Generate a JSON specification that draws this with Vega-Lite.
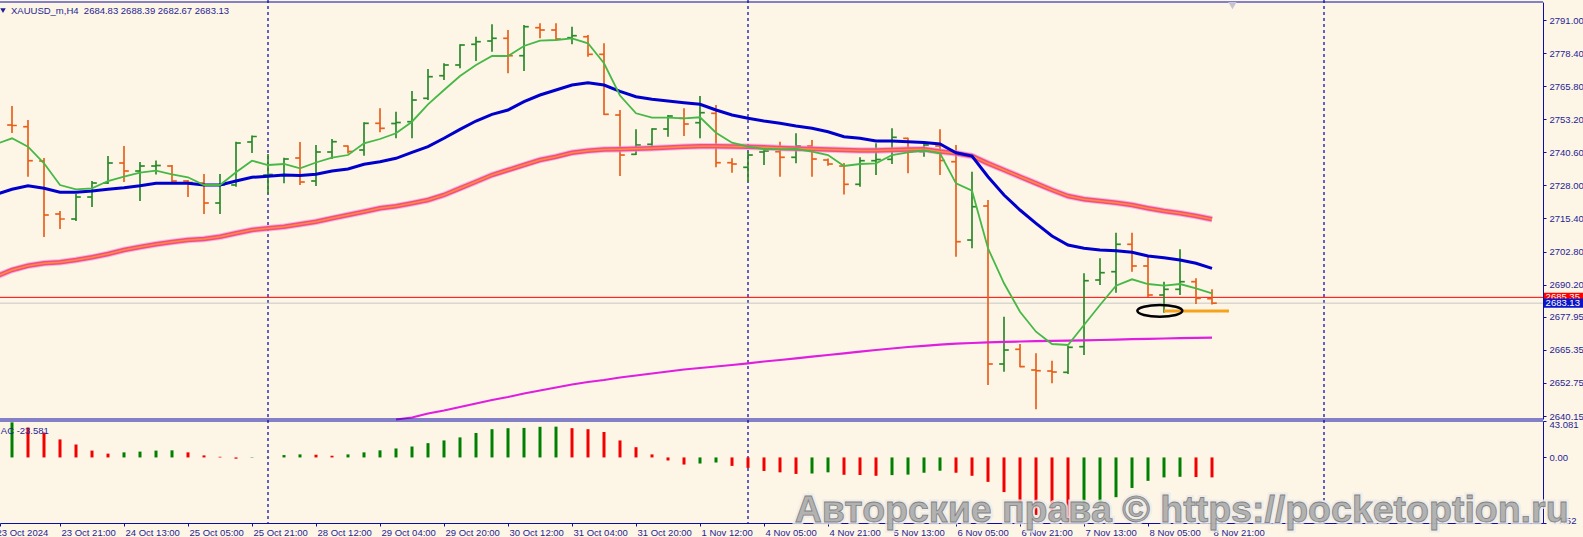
{
"$schema": "https://vega.github.io/schema/vega-lite/v6.json",
"width": 1543, "height": 523,
"autosize": {"type": "none"},
"padding": {"left": 0, "top": 0, "right": 40, "bottom": 14},
"background": "#fdf5e6",
"config": {"view": {"stroke": null}, "font": "Liberation Sans",
  "axis": {"grid": false, "title": null, "tickColor": "#0c0ca8", "domainColor": "#0c0ca8", "labelColor": "#1e1e96", "labelFont": "Liberation Sans", "labelFontSize": 9.5, "tickSize": 3}},
"datasets": {
"bars": [
{"i":0,"o":2751.00,"h":2758.24,"l":2747.95,"c":2750.81},
{"i":1,"o":2750.35,"h":2752.91,"l":2731.31,"c":2737.40},
{"i":2,"o":2737.29,"h":2738.43,"l":2708.34,"c":2716.72},
{"i":3,"o":2717.10,"h":2718.24,"l":2711.38,"c":2715.19},
{"i":4,"o":2715.19,"h":2724.72,"l":2714.43,"c":2723.57},
{"i":5,"o":2723.57,"h":2729.67,"l":2719.76,"c":2728.91},
{"i":6,"o":2728.91,"h":2739.19,"l":2728.53,"c":2736.53},
{"i":7,"o":2736.53,"h":2743.00,"l":2729.29,"c":2733.48},
{"i":8,"o":2733.48,"h":2736.91,"l":2722.05,"c":2735.38},
{"i":9,"o":2735.38,"h":2737.48,"l":2732.14,"c":2735.57},
{"i":10,"o":2735.38,"h":2735.76,"l":2729.29,"c":2729.67},
{"i":11,"o":2729.67,"h":2730.05,"l":2723.57,"c":2729.10},
{"i":12,"o":2728.91,"h":2732.34,"l":2717.10,"c":2721.29},
{"i":13,"o":2721.29,"h":2732.34,"l":2717.10,"c":2728.15},
{"i":14,"o":2728.15,"h":2744.64,"l":2727.50,"c":2744.14},
{"i":15,"o":2744.53,"h":2747.00,"l":2740.33,"c":2746.62},
{"i":16,"o":2731.95,"h":2739.95,"l":2724.72,"c":2732.14},
{"i":17,"o":2731.95,"h":2738.54,"l":2728.79,"c":2738.05},
{"i":18,"o":2738.43,"h":2744.53,"l":2728.15,"c":2729.29},
{"i":19,"o":2729.67,"h":2743.38,"l":2727.76,"c":2740.72},
{"i":20,"o":2740.72,"h":2745.67,"l":2738.05,"c":2744.64},
{"i":21,"o":2743.00,"h":2743.19,"l":2740.14,"c":2740.91},
{"i":22,"o":2741.48,"h":2752.03,"l":2739.31,"c":2751.65},
{"i":23,"o":2751.65,"h":2757.36,"l":2748.22,"c":2749.74},
{"i":24,"o":2751.57,"h":2756.07,"l":2745.93,"c":2751.95},
{"i":25,"o":2752.26,"h":2763.95,"l":2745.93,"c":2760.52},
{"i":26,"o":2761.17,"h":2772.33,"l":2760.52,"c":2769.40},
{"i":27,"o":2769.78,"h":2774.51,"l":2768.14,"c":2773.86},
{"i":28,"o":2773.86,"h":2781.74,"l":2772.60,"c":2781.48},
{"i":29,"o":2781.74,"h":2784.64,"l":2775.38,"c":2782.73},
{"i":30,"o":2783.00,"h":2789.36,"l":2778.92,"c":2784.03},
{"i":31,"o":2784.03,"h":2787.19,"l":2770.70,"c":2777.40},
{"i":32,"o":2777.40,"h":2789.10,"l":2771.57,"c":2788.45},
{"i":33,"o":2788.07,"h":2789.74,"l":2784.03,"c":2787.19},
{"i":34,"o":2787.19,"h":2789.74,"l":2783.38,"c":2783.76},
{"i":35,"o":2784.26,"h":2788.45,"l":2781.74,"c":2785.02},
{"i":36,"o":2784.64,"h":2785.29,"l":2777.02,"c":2777.93},
{"i":37,"o":2777.93,"h":2782.12,"l":2754.81,"c":2755.08},
{"i":38,"o":2754.81,"h":2756.72,"l":2731.57,"c":2739.57},
{"i":39,"o":2739.84,"h":2749.36,"l":2739.57,"c":2743.38},
{"i":40,"o":2743.65,"h":2749.74,"l":2743.00,"c":2749.48},
{"i":41,"o":2749.48,"h":2754.81,"l":2746.55,"c":2754.43},
{"i":42,"o":2753.55,"h":2757.36,"l":2746.81,"c":2751.38},
{"i":43,"o":2751.88,"h":2762.05,"l":2745.93,"c":2755.69},
{"i":44,"o":2755.46,"h":2758.62,"l":2734.89,"c":2736.64},
{"i":45,"o":2736.64,"h":2738.32,"l":2732.83,"c":2736.14},
{"i":46,"o":2734.89,"h":2740.83,"l":2729.40,"c":2739.57},
{"i":47,"o":2740.72,"h":2742.81,"l":2735.76,"c":2741.10},
{"i":48,"o":2740.83,"h":2744.64,"l":2731.31,"c":2738.70},
{"i":49,"o":2738.70,"h":2747.84,"l":2736.41,"c":2743.00},
{"i":50,"o":2743.00,"h":2745.29,"l":2731.31,"c":2738.05},
{"i":51,"o":2737.67,"h":2738.24,"l":2735.50,"c":2736.14},
{"i":52,"o":2735.38,"h":2736.53,"l":2724.53,"c":2728.41},
{"i":53,"o":2728.41,"h":2738.70,"l":2727.50,"c":2737.40},
{"i":54,"o":2737.40,"h":2744.03,"l":2731.95,"c":2737.86},
{"i":55,"o":2737.93,"h":2749.74,"l":2736.14,"c":2746.32},
{"i":56,"o":2745.93,"h":2746.16,"l":2732.60,"c":2740.83},
{"i":57,"o":2740.83,"h":2744.26,"l":2738.92,"c":2743.38},
{"i":58,"o":2743.00,"h":2749.36,"l":2731.95,"c":2737.48},
{"i":59,"o":2737.02,"h":2743.38,"l":2700.83,"c":2706.55},
{"i":60,"o":2707.19,"h":2733.21,"l":2704.03,"c":2719.88},
{"i":61,"o":2720.15,"h":2722.43,"l":2651.96,"c":2659.96},
{"i":62,"o":2659.96,"h":2677.98,"l":2657.02,"c":2665.29},
{"i":63,"o":2665.56,"h":2667.58,"l":2658.70,"c":2658.93},
{"i":64,"o":2657.67,"h":2664.03,"l":2642.70,"c":2657.40},
{"i":65,"o":2657.29,"h":2661.21,"l":2652.60,"c":2656.91},
{"i":66,"o":2656.80,"h":2666.81,"l":2656.15,"c":2666.32},
{"i":67,"o":2666.55,"h":2694.51,"l":2663.39,"c":2691.69},
{"i":68,"o":2691.96,"h":2700.22,"l":2690.05,"c":2694.74},
{"i":69,"o":2695.12,"h":2709.97,"l":2687.12,"c":2705.56},
{"i":70,"o":2705.56,"h":2709.97,"l":2695.12,"c":2697.29},
{"i":71,"o":2697.29,"h":2700.72,"l":2685.48,"c":2686.24},
{"i":72,"o":2686.24,"h":2691.31,"l":2679.50,"c":2688.41},
{"i":73,"o":2688.41,"h":2703.65,"l":2686.24,"c":2691.31},
{"i":74,"o":2691.31,"h":2692.60,"l":2682.81,"c":2684.99},
{"i":75,"o":2684.83,"h":2688.39,"l":2682.67,"c":2683.13}
],
"ma": [
{"i":-1,"g":2743.76,"b":2724.53,"p":2693.29},
{"i":0,"g":2745.94,"b":2726.51,"p":2695.77},
{"i":1,"g":2742.74,"b":2727.88,"p":2697.40},
{"i":2,"g":2736.41,"b":2726.89,"p":2698.32},
{"i":3,"g":2728.15,"b":2725.37,"p":2698.70},
{"i":4,"g":2726.51,"b":2725.37,"p":2699.58},
{"i":5,"g":2726.89,"b":2725.86,"p":2700.60},
{"i":6,"g":2729.67,"b":2726.51,"p":2701.86},
{"i":7,"g":2731.31,"b":2727.12,"p":2703.38},
{"i":8,"g":2732.83,"b":2727.88,"p":2704.53},
{"i":9,"g":2733.59,"b":2728.79,"p":2705.56},
{"i":10,"g":2732.22,"b":2728.79,"p":2706.43},
{"i":11,"g":2731.08,"b":2728.79,"p":2707.19},
{"i":12,"g":2728.15,"b":2728.15,"p":2707.58},
{"i":13,"g":2728.15,"b":2728.15,"p":2708.45},
{"i":14,"g":2732.98,"b":2729.67,"p":2709.75},
{"i":15,"g":2737.40,"b":2731.08,"p":2711.00},
{"i":16,"g":2735.76,"b":2731.46,"p":2711.65},
{"i":17,"g":2736.15,"b":2731.96,"p":2712.26},
{"i":18,"g":2734.51,"b":2731.77,"p":2713.17},
{"i":19,"g":2736.72,"b":2732.26,"p":2714.17},
{"i":20,"g":2738.55,"b":2733.48,"p":2715.46},
{"i":21,"g":2739.57,"b":2734.24,"p":2716.72},
{"i":22,"g":2744.03,"b":2736.03,"p":2717.98},
{"i":23,"g":2745.67,"b":2737.02,"p":2719.27},
{"i":24,"g":2747.84,"b":2738.32,"p":2720.03,"m":2638.81},
{"i":25,"g":2752.26,"b":2740.60,"p":2721.17,"m":2639.58},
{"i":26,"g":2758.89,"b":2742.74,"p":2722.43,"m":2641.10},
{"i":27,"g":2764.34,"b":2745.94,"p":2724.34,"m":2642.24},
{"i":28,"g":2769.67,"b":2749.36,"p":2726.89,"m":2643.58},
{"i":29,"g":2773.86,"b":2752.53,"p":2729.40,"m":2644.91},
{"i":30,"g":2777.29,"b":2755.08,"p":2731.96,"m":2646.24},
{"i":31,"g":2777.29,"b":2756.72,"p":2733.86,"m":2647.39},
{"i":32,"g":2781.10,"b":2759.88,"p":2735.76,"m":2648.72},
{"i":33,"g":2783.12,"b":2762.43,"p":2737.67,"m":2649.86},
{"i":34,"g":2783.38,"b":2764.34,"p":2738.93,"m":2651.01},
{"i":35,"g":2784.03,"b":2766.24,"p":2740.45,"m":2652.15},
{"i":36,"g":2782.13,"b":2767.12,"p":2741.21,"m":2653.10},
{"i":37,"g":2774.51,"b":2766.24,"p":2741.67,"m":2653.86},
{"i":38,"g":2762.24,"b":2763.84,"p":2741.75,"m":2654.82},
{"i":39,"g":2755.46,"b":2761.78,"p":2741.94,"m":2655.58},
{"i":40,"g":2753.78,"b":2760.79,"p":2742.13,"m":2656.34},
{"i":41,"g":2753.78,"b":2760.15,"p":2742.43,"m":2657.10},
{"i":42,"g":2753.55,"b":2759.50,"p":2742.70,"m":2657.86},
{"i":43,"g":2753.94,"b":2758.89,"p":2742.89,"m":2658.43},
{"i":44,"g":2748.07,"b":2756.72,"p":2742.89,"m":2659.01},
{"i":45,"g":2744.26,"b":2754.81,"p":2742.81,"m":2659.58},
{"i":46,"g":2742.74,"b":2753.55,"p":2742.70,"m":2660.22},
{"i":47,"g":2741.86,"b":2752.53,"p":2742.51,"m":2660.91},
{"i":48,"g":2741.75,"b":2751.65,"p":2742.24,"m":2661.48},
{"i":49,"g":2741.86,"b":2750.62,"p":2742.05,"m":2662.13},
{"i":50,"g":2740.83,"b":2749.75,"p":2741.86,"m":2662.74},
{"i":51,"g":2739.57,"b":2748.45,"p":2741.67,"m":2663.39},
{"i":52,"g":2735.38,"b":2746.55,"p":2741.48,"m":2664.03},
{"i":53,"g":2736.15,"b":2745.94,"p":2741.29,"m":2664.65},
{"i":54,"g":2736.41,"b":2744.91,"p":2741.29,"m":2665.29},
{"i":55,"g":2739.57,"b":2744.91,"p":2741.48,"m":2665.86},
{"i":56,"g":2740.60,"b":2744.64,"p":2741.67,"m":2666.43},
{"i":57,"g":2741.29,"b":2744.34,"p":2741.75,"m":2666.89},
{"i":58,"g":2740.22,"b":2743.76,"p":2740.91,"m":2667.31},
{"i":59,"g":2728.79,"b":2740.45,"p":2740.22,"m":2667.69},
{"i":60,"g":2725.97,"b":2739.19,"p":2739.19,"m":2667.96},
{"i":61,"g":2704.03,"b":2731.31,"p":2736.41,"m":2668.22},
{"i":62,"g":2690.70,"b":2724.34,"p":2733.86,"m":2668.41},
{"i":63,"g":2679.88,"b":2718.62,"p":2731.31,"m":2668.53},
{"i":64,"g":2672.26,"b":2713.56,"p":2728.79,"m":2668.64},
{"i":65,"g":2667.58,"b":2708.72,"p":2726.24,"m":2668.76},
{"i":66,"g":2667.20,"b":2705.29,"p":2723.96,"m":2668.87},
{"i":67,"g":2674.81,"b":2704.03,"p":2722.70,"m":2668.99},
{"i":68,"g":2682.43,"b":2703.38,"p":2722.05,"m":2669.10},
{"i":69,"g":2689.79,"b":2703.12,"p":2721.40,"m":2669.25},
{"i":70,"g":2692.22,"b":2702.51,"p":2720.53,"m":2669.41},
{"i":71,"g":2690.43,"b":2701.10,"p":2719.27,"m":2669.56},
{"i":72,"g":2689.79,"b":2700.45,"p":2718.24,"m":2669.67},
{"i":73,"g":2690.43,"b":2699.58,"p":2717.37,"m":2669.79},
{"i":74,"g":2688.80,"b":2698.32,"p":2716.34,"m":2669.90},
{"i":75,"g":2686.89,"b":2696.41,"p":2715.08,"m":2670.02}
],
"ac": [
{"i":0,"ac":41.5},{"i":1,"ac":35.4},{"i":2,"ac":29.4},{"i":3,"ac":21.3},{"i":4,"ac":15.3},
{"i":5,"ac":8.1},{"i":6,"ac":4.5},{"i":7,"ac":6.0},{"i":8,"ac":6.9},{"i":9,"ac":8.1},
{"i":10,"ac":8.4},{"i":11,"ac":6.0},{"i":12,"ac":2.4},{"i":13,"ac":0.8},{"i":14,"ac":-1.5},
{"i":15,"ac":-0.4},{"i":16,"ac":0.3},{"i":17,"ac":2.8},{"i":18,"ac":3.6},{"i":19,"ac":3.2},
{"i":20,"ac":2.0},{"i":21,"ac":3.6},{"i":22,"ac":6.0},{"i":23,"ac":8.4},{"i":24,"ac":10.6},
{"i":25,"ac":12.9},{"i":26,"ac":16.9},{"i":27,"ac":20.1},{"i":28,"ac":23.7},{"i":29,"ac":28.9},
{"i":30,"ac":33.4},{"i":31,"ac":34.6},{"i":32,"ac":34.9},{"i":33,"ac":36.2},{"i":34,"ac":36.4},
{"i":35,"ac":34.6},{"i":36,"ac":33.4},{"i":37,"ac":30.1},{"i":38,"ac":20.1},{"i":39,"ac":12.1},
{"i":40,"ac":3.6},{"i":41,"ac":-3.6},{"i":42,"ac":-8.4},{"i":43,"ac":-7.2},{"i":44,"ac":-6.0},
{"i":45,"ac":-10.0},{"i":46,"ac":-12.4},{"i":47,"ac":-16.0},{"i":48,"ac":-17.6},{"i":49,"ac":-19.5},
{"i":50,"ac":-19.0},{"i":51,"ac":-17.6},{"i":52,"ac":-20.5},{"i":53,"ac":-20.8},{"i":54,"ac":-21.7},
{"i":55,"ac":-20.9},{"i":56,"ac":-20.3},{"i":57,"ac":-18.1},{"i":58,"ac":-15.7},{"i":59,"ac":-18.1},
{"i":60,"ac":-21.7},{"i":61,"ac":-28.9},{"i":62,"ac":-41.0},{"i":63,"ac":-55.0},{"i":64,"ac":-68.0},
{"i":65,"ac":-75.5},{"i":66,"ac":-77.52},{"i":67,"ac":-70.0},{"i":68,"ac":-59.0},{"i":69,"ac":-47.0},
{"i":70,"ac":-36.1},{"i":71,"ac":-27.7},{"i":72,"ac":-23.6},{"i":73,"ac":-22.9},{"i":74,"ac":-23.2},
{"i":75,"ac":-23.581}
]
},
"layer": [
{
"layer": [
{"data": {"values": [{"name":"top"}]},
 "mark": {"type":"rule","stroke":"#0c0ca8","strokeWidth":1.2},
 "encoding": {
  "y": {"datum":2797.86,"type":"quantitative","scale":{"domain":[2639.01,2797.86],"range":[419,2],"nice":false,"zero":false},
   "axis":{"orient":"right","values":[2791,2778.4,2765.8,2753.2,2740.6,2728,2715.4,2702.8,2690.2,2677.95,2665.35,2652.75,2640.15],"format":".2f","title":null,"grid":false,"tickSize":3,"labelPadding":3,"labelOverlap":false,"labelFlush":false,"labelBound":false,"domain":true,"ticks":true,"labels":true}}}},
{"data": {"values": [{"i":16},{"i":46},{"i":82}]},
 "mark": {"type":"rule","stroke":"#0000a8","strokeDash":[3,3],"strokeWidth":1.2},
 "encoding": {"x": {"field":"i","type":"quantitative","scale":{"domain":[-0.75,95.6875],"nice":false,"zero":false}}}},
{"data": {"values": [{"name":"ask"}]},
 "mark": {"type":"rule","stroke":"#ff0000","strokeWidth":1},
 "encoding": {"y": {"datum":2685.35,"type":"quantitative","scale":{"domain":[2639.01,2797.86],"range":[419,2],"nice":false,"zero":false}}}},
{"data": {"values": [{"name":"bid"}]},
 "mark": {"type":"rule","stroke":"#c8c8c8","strokeWidth":1},
 "encoding": {"y": {"datum":2683.13,"type":"quantitative","scale":{"domain":[2639.01,2797.86],"range":[419,2],"nice":false,"zero":false}}}},
{"data": {"name":"bars"},
 "mark": {"type":"rule","strokeWidth":1.7},
 "encoding": {
  "x": {"field":"i","type":"quantitative","scale":{"domain":[-0.75,95.6875],"nice":false,"zero":false}},
  "y": {"field":"h","type":"quantitative","scale":{"domain":[2639.01,2797.86],"range":[419,2],"nice":false,"zero":false}},
  "y2": {"field":"l"},
  "color": {"condition":{"test":"datum.c >= datum.o","value":"#2a8a2a"},"value":"#e8601a"}}},
{"data": {"name":"bars"},
 "mark": {"type":"tick","orient":"horizontal","size":4.8,"thickness":1.7,"xOffset":-2.4,"opacity":1},
 "encoding": {
  "x": {"field":"i","type":"quantitative","scale":{"domain":[-0.75,95.6875],"nice":false,"zero":false}},
  "y": {"field":"o","type":"quantitative","scale":{"domain":[2639.01,2797.86],"range":[419,2],"nice":false,"zero":false}},
  "color": {"condition":{"test":"datum.c >= datum.o","value":"#2a8a2a"},"value":"#e8601a"}}},
{"data": {"name":"bars"},
 "mark": {"type":"tick","orient":"horizontal","size":4.8,"thickness":1.7,"xOffset":2.4,"opacity":1},
 "encoding": {
  "x": {"field":"i","type":"quantitative","scale":{"domain":[-0.75,95.6875],"nice":false,"zero":false}},
  "y": {"field":"c","type":"quantitative","scale":{"domain":[2639.01,2797.86],"range":[419,2],"nice":false,"zero":false}},
  "color": {"condition":{"test":"datum.c >= datum.o","value":"#2a8a2a"},"value":"#e8601a"}}},
{"data": {"name":"ma"},
 "mark": {"type":"line","stroke":"#ee82ee","strokeWidth":6.5,"opacity":0.55},
 "encoding": {
  "x": {"field":"i","type":"quantitative","scale":{"domain":[-0.75,95.6875],"nice":false,"zero":false}},
  "y": {"field":"p","type":"quantitative","scale":{"domain":[2639.01,2797.86],"range":[419,2],"nice":false,"zero":false}}}},
{"data": {"name":"ma"},
 "mark": {"type":"line","stroke":"#f2507a","strokeWidth":4.5},
 "encoding": {
  "x": {"field":"i","type":"quantitative","scale":{"domain":[-0.75,95.6875],"nice":false,"zero":false}},
  "y": {"field":"p","type":"quantitative","scale":{"domain":[2639.01,2797.86],"range":[419,2],"nice":false,"zero":false}}}},
{"data": {"name":"ma"},
 "mark": {"type":"line","stroke":"#ff8c3c","strokeWidth":1.5},
 "encoding": {
  "x": {"field":"i","type":"quantitative","scale":{"domain":[-0.75,95.6875],"nice":false,"zero":false}},
  "y": {"field":"p","type":"quantitative","scale":{"domain":[2639.01,2797.86],"range":[419,2],"nice":false,"zero":false}}}},
{"data": {"name":"ma"},
 "mark": {"type":"line","stroke":"#e01ee0","strokeWidth":2.2},
 "encoding": {
  "x": {"field":"i","type":"quantitative","scale":{"domain":[-0.75,95.6875],"nice":false,"zero":false}},
  "y": {"field":"m","type":"quantitative","scale":{"domain":[2639.01,2797.86],"range":[419,2],"nice":false,"zero":false}}}},
{"data": {"name":"ma"},
 "mark": {"type":"line","stroke":"#0000cd","strokeWidth":3},
 "encoding": {
  "x": {"field":"i","type":"quantitative","scale":{"domain":[-0.75,95.6875],"nice":false,"zero":false}},
  "y": {"field":"b","type":"quantitative","scale":{"domain":[2639.01,2797.86],"range":[419,2],"nice":false,"zero":false}}}},
{"data": {"name":"ma"},
 "mark": {"type":"line","stroke":"#46b846","strokeWidth":1.8},
 "encoding": {
  "x": {"field":"i","type":"quantitative","scale":{"domain":[-0.75,95.6875],"nice":false,"zero":false}},
  "y": {"field":"g","type":"quantitative","scale":{"domain":[2639.01,2797.86],"range":[419,2],"nice":false,"zero":false}}}},
{"data": {"values": [{"name":"level"}]},
 "mark": {"type":"rule","stroke":"#f5a31a","strokeWidth":3},
 "encoding": {
  "x": {"datum":72,"type":"quantitative","scale":{"domain":[-0.75,95.6875],"nice":false,"zero":false}},
  "x2": {"datum":76.06},
  "y": {"datum":2680.11,"type":"quantitative","scale":{"domain":[2639.01,2797.86],"range":[419,2],"nice":false,"zero":false}}}},
{"data": {"values": [{"name":"ellipse"}]},
 "mark": {"type":"point","shape":"M -1 0 C -1 -0.1436 -0.5523 -0.26 0 -0.26 C 0.5523 -0.26 1 -0.1436 1 0 C 1 0.1436 0.5523 0.26 0 0.26 C -0.5523 0.26 -1 0.1436 -1 0 Z","size":2025,"filled":false,"stroke":"#000000","strokeWidth":2.5,"opacity":1},
 "encoding": {
  "x": {"datum":71.74,"type":"quantitative","scale":{"domain":[-0.75,95.6875],"nice":false,"zero":false}},
  "y": {"datum":2680.22,"type":"quantitative","scale":{"domain":[2639.01,2797.86],"range":[419,2],"nice":false,"zero":false}}}},
{"data": {"values": [{"t":"XAUUSD_m,H4\u00a0 2684.83 2688.39 2682.67 2683.13"}]},
 "mark": {"type":"text","align":"left","baseline":"middle","font":"Liberation Sans","fontSize":9.5,"fill":"#1e1e96"},
 "encoding": {
  "x": {"datum":-0.0625,"type":"quantitative","scale":{"domain":[-0.75,95.6875],"nice":false,"zero":false}},
  "y": {"datum":2794.54,"type":"quantitative","scale":{"domain":[2639.01,2797.86],"range":[419,2],"nice":false,"zero":false}},
  "text": {"field":"t"}}},
{"data": {"values": [{"name":"menu"}]},
 "mark": {"type":"point","shape":"triangle-down","size":30,"filled":true,"fill":"#1e1e96","opacity":1},
 "encoding": {
  "x": {"datum":-0.5625,"type":"quantitative","scale":{"domain":[-0.75,95.6875],"nice":false,"zero":false}},
  "y": {"datum":2794.62,"type":"quantitative","scale":{"domain":[2639.01,2797.86],"range":[419,2],"nice":false,"zero":false}}}},
{"data": {"values": [{"name":"shift"}]},
 "mark": {"type":"point","shape":"triangle-down","size":70,"filled":true,"fill":"#c4c4d4","opacity":1},
 "encoding": {
  "x": {"datum":76.28,"type":"quantitative","scale":{"domain":[-0.75,95.6875],"nice":false,"zero":false}},
  "y": {"datum":2796.5,"type":"quantitative","scale":{"domain":[2639.01,2797.86],"range":[419,2],"nice":false,"zero":false}}}},
{"data": {"values": [{"name":"bottom"}]},
 "mark": {"type":"rule","stroke":"#0c0ca8","strokeWidth":1.2},
 "encoding": {
  "y": {"datum":2639.01,"type":"quantitative","scale":{"domain":[2639.01,2797.86],"range":[419,2],"nice":false,"zero":false}}}},
{"data": {"values": [{"name":"askbox"}]},
 "mark": {"type":"rect","fill":"#ff0000"},
 "encoding": {
  "x": {"datum":95.75,"type":"quantitative","scale":{"domain":[-0.75,95.6875],"nice":false,"zero":false}},
  "x2": {"datum":98.4},
  "y": {"datum":2687.1,"type":"quantitative","scale":{"domain":[2639.01,2797.86],"range":[419,2],"nice":false,"zero":false}},
  "y2": {"datum":2683.6}}},
{"data": {"values": [{"t":"2685.35"}]},
 "mark": {"type":"text","align":"left","baseline":"middle","font":"Liberation Sans","fontSize":9.5,"fill":"#ffffff"},
 "encoding": {
  "x": {"datum":95.85,"type":"quantitative","scale":{"domain":[-0.75,95.6875],"nice":false,"zero":false}},
  "y": {"datum":2685.35,"type":"quantitative","scale":{"domain":[2639.01,2797.86],"range":[419,2],"nice":false,"zero":false}},
  "text": {"field":"t"}}},
{"data": {"values": [{"name":"bidbox"}]},
 "mark": {"type":"rect","fill":"#0a14c8"},
 "encoding": {
  "x": {"datum":95.75,"type":"quantitative","scale":{"domain":[-0.75,95.6875],"nice":false,"zero":false}},
  "x2": {"datum":98.4},
  "y": {"datum":2684.88,"type":"quantitative","scale":{"domain":[2639.01,2797.86],"range":[419,2],"nice":false,"zero":false}},
  "y2": {"datum":2681.38}}},
{"data": {"values": [{"t":"2683.13"}]},
 "mark": {"type":"text","align":"left","baseline":"middle","font":"Liberation Sans","fontSize":9.5,"fill":"#ffffff"},
 "encoding": {
  "x": {"datum":95.85,"type":"quantitative","scale":{"domain":[-0.75,95.6875],"nice":false,"zero":false}},
  "y": {"datum":2683.13,"type":"quantitative","scale":{"domain":[2639.01,2797.86],"range":[419,2],"nice":false,"zero":false}},
  "text": {"field":"t"}}}
]
},
{
"layer": [
{"data": {"name":"ac"},
 "transform": [{"window":[{"op":"lag","field":"ac","as":"prev"}],"sort":[{"field":"i"}]}],
 "mark": {"type":"rule","strokeWidth":3},
 "encoding": {
  "x": {"field":"i","type":"quantitative","scale":{"domain":[-0.75,95.6875],"nice":false,"zero":false},
   "axis":{"orient":"bottom","values":[-0.75,3,7,11,15,19,23,27,31,35,39,43,47,51,55,59,63,67,71,75],
    "labelExpr":"datum.value < 0 ? '23 Oct 2024' : ['23 Oct 2024','23 Oct 21:00','24 Oct 13:00','25 Oct 05:00','25 Oct 21:00','28 Oct 12:00','29 Oct 04:00','29 Oct 20:00','30 Oct 12:00','31 Oct 04:00','31 Oct 20:00','1 Nov 12:00','4 Nov 05:00','4 Nov 21:00','5 Nov 13:00','6 Nov 05:00','6 Nov 21:00','7 Nov 13:00','8 Nov 05:00','8 Nov 21:00'][(datum.value+1)/4]",
    "title":null,"grid":false,"tickSize":3,"labelAlign":"left","labelBaseline":"top","labelPadding":1,
    "labelOffset":{"condition":{"test":"datum.value < 0","value":-4},"value":1},
    "labelOverlap":false,"labelFlush":false,"labelBound":false,"domain":true,"ticks":true,"labels":true}},
  "y": {"field":"ac","type":"quantitative","scale":{"domain":[-77.52,43.081],"range":[523,421],"nice":false,"zero":false},
   "axis":{"orient":"right","values":[43.081,0,-77.52],"labelExpr":"datum.value == 0 ? '0.00' : (datum.value > 0 ? '43.081' : '-77.52')","title":null,"grid":false,"tickSize":3,"labelPadding":3,"labelOverlap":false,"labelFlush":true,"labelFlushOffset":2,"labelBound":false,"domain":true,"ticks":true,"labels":true}},
  "y2": {"datum":0},
  "color": {"condition":{"test":"datum.prev == null || datum.ac >= datum.prev","value":"#008000"},"value":"#f00000"}}},
{"data": {"values": [{"name":"actop"}]},
 "mark": {"type":"rule","stroke":"#0c0ca8","strokeWidth":1.2},
 "encoding": {
  "y": {"datum":43.081,"type":"quantitative","scale":{"domain":[-77.52,43.081],"range":[523,421],"nice":false,"zero":false}}}},
{"data": {"values": [{"t":"AC -23.581"}]},
 "mark": {"type":"text","align":"left","baseline":"middle","font":"Liberation Sans","fontSize":9.5,"fill":"#1e1e96"},
 "encoding": {
  "x": {"datum":-0.7,"type":"quantitative","scale":{"domain":[-0.75,95.6875],"nice":false,"zero":false}},
  "y": {"datum":31.2,"type":"quantitative","scale":{"domain":[-77.52,43.081],"range":[523,421],"nice":false,"zero":false}},
  "text": {"field":"t"}}},
{"data": {"values": [{"t":"Авторские права © https://pocketoption.ru"}]},
 "mark": {"type":"text","align":"center","baseline":"alphabetic","font":"Liberation Sans","fontWeight":"bold","fontSize":37.5,"fill":"#ececec","stroke":"#ececec","strokeWidth":5,"opacity":0.8},
 "encoding": {
  "x": {"datum":73.1,"type":"quantitative","scale":{"domain":[-0.75,95.6875],"nice":false,"zero":false}},
  "y": {"datum":-76.3,"type":"quantitative","scale":{"domain":[-77.52,43.081],"range":[523,421],"nice":false,"zero":false}},
  "text": {"field":"t"}}},
{"data": {"values": [{"t":"Авторские права © https://pocketoption.ru"}]},
 "mark": {"type":"text","align":"center","baseline":"alphabetic","font":"Liberation Sans","fontWeight":"bold","fontSize":37.5,"fill":"#a8a8a8","stroke":"#707070","strokeWidth":0.8,"opacity":0.85},
 "encoding": {
  "x": {"datum":73.1,"type":"quantitative","scale":{"domain":[-0.75,95.6875],"nice":false,"zero":false}},
  "y": {"datum":-76.3,"type":"quantitative","scale":{"domain":[-77.52,43.081],"range":[523,421],"nice":false,"zero":false}},
  "text": {"field":"t"}}}
]
}
],
"resolve": {"scale": {"y": "independent"}, "axis": {"y": "independent"}}
}
